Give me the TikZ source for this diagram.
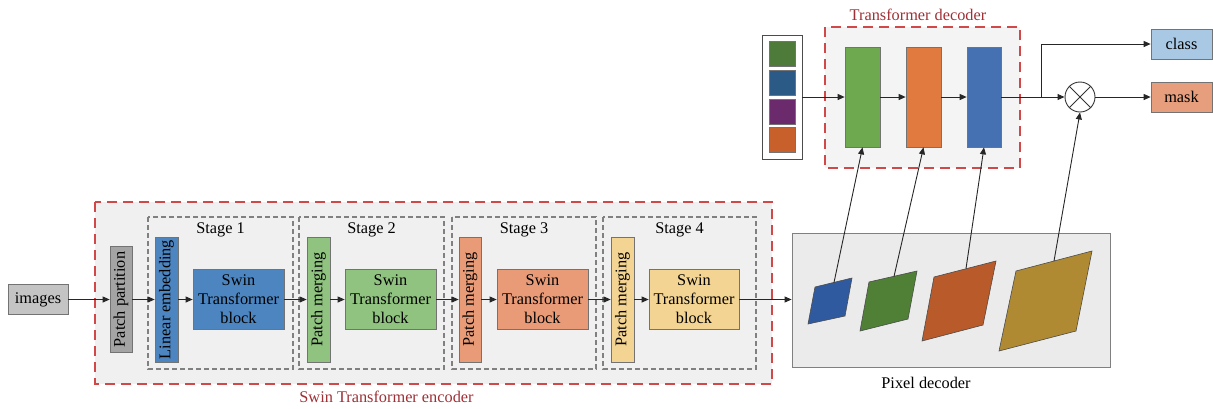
\documentclass[tikz,border=0pt]{standalone}
\usepackage{fontspec}
\setmainfont{Liberation Serif}
\usepackage{graphicx}
\usetikzlibrary{arrows.meta}
\definecolor{redd}{HTML}{D04848}
\definecolor{labred}{HTML}{9E2F35}
\definecolor{bgg}{HTML}{F0F0F0}
\definecolor{pdc}{HTML}{EBEBEB}
\definecolor{imgc}{HTML}{C4C4C4}
\definecolor{ppc}{HTML}{A4A4A4}
\definecolor{bluec}{HTML}{4C85C0}
\definecolor{greenc}{HTML}{90C37F}
\definecolor{salc}{HTML}{E99B78}
\definecolor{yelc}{HTML}{F4D492}
\definecolor{qg}{HTML}{4E7A3A}
\definecolor{qb}{HTML}{2A5A85}
\definecolor{qp}{HTML}{6A2A6C}
\definecolor{qo}{HTML}{C8602C}
\definecolor{dgc}{HTML}{6EA94F}
\definecolor{doc}{HTML}{E07A3E}
\definecolor{dbc}{HTML}{4571B2}
\definecolor{clsc}{HTML}{A8C8E4}
\definecolor{mskc}{HTML}{E69E7C}
\definecolor{pbl}{HTML}{2F5AA0}
\definecolor{pgr}{HTML}{4F8036}
\definecolor{por}{HTML}{B85A2A}
\definecolor{pgo}{HTML}{B08A32}
\begin{document}
\begin{tikzpicture}[x=1pt,y=-1pt,font=\fontsize{16.3}{19}\selectfont,
  arr/.style={-{Triangle[length=7pt,width=6pt]},line width=0.9pt,draw=black!85},
  blk/.style={draw=black!55,line width=0.7pt,inner sep=0pt,align=center},
  reddash/.style={draw=redd,line width=1.8pt,dash pattern=on 10pt off 6pt},
  graydash/.style={draw=black!50,line width=1.1pt,dash pattern=on 5pt off 3pt,fill=bgg},
  para/.style={draw=black!70,line width=0.6pt}]
\useasboundingbox (0,0) rectangle (1213,408);
% encoder frame
\draw[reddash,fill=bgg] (95,202) rectangle (772,384);
\node[text=labred,anchor=base] (enclab) at (386.5,402) {Swin Transformer encoder};
% stage boxes
\draw[graydash] (148,217) rectangle (293,369);
\draw[graydash] (299,217) rectangle (444,369);
\draw[graydash] (452,217) rectangle (596,369);
\draw[graydash] (603,217) rectangle (756,369);
\node[anchor=base] (st1) at (220.5,233) {Stage 1};
\node[anchor=base] (st2) at (371.5,233) {Stage 2};
\node[anchor=base] (st3) at (524,233) {Stage 3};
\node[anchor=base] (st4) at (679.5,233) {Stage 4};
% encoder blocks
\node[blk,fill=imgc,minimum width=60,minimum height=30] (img) at (38,299.5) {images};
\node[blk,fill=ppc,minimum width=22,minimum height=106] (pp) at (121,299.5) {\rotatebox{90}{Patch partition}};
\node[blk,fill=bluec,minimum width=23,minimum height=125] (le) at (166.5,299.5) {\rotatebox{90}{Linear embedding}};
\node[blk,fill=bluec,minimum width=91,minimum height=60] (sw1) at (238.5,299.5) {Swin\\Transformer\\block};
\node[blk,fill=greenc,minimum width=23,minimum height=125] (pm2) at (318.5,299.5) {\rotatebox{90}{Patch merging}};
\node[blk,fill=greenc,minimum width=91,minimum height=60] (sw2) at (390.5,299.5) {Swin\\Transformer\\block};
\node[blk,fill=salc,minimum width=22,minimum height=125] (pm3) at (470,299.5) {\rotatebox{90}{Patch merging}};
\node[blk,fill=salc,minimum width=91,minimum height=60] (sw3) at (542.5,299.5) {Swin\\Transformer\\block};
\node[blk,fill=yelc,minimum width=23,minimum height=125] (pm4) at (622.5,299.5) {\rotatebox{90}{Patch merging}};
\node[blk,fill=yelc,minimum width=90,minimum height=60] (sw4) at (694,299.5) {Swin\\Transformer\\block};
% pixel decoder
\node[draw=black!50,line width=0.8pt,fill=pdc,minimum width=318,minimum height=134,inner sep=0pt] (pd) at (951,300) {};
\node[anchor=base] (pdlab) at (926,388) {Pixel decoder};
\draw[para,fill=pbl] (815,287) -- (852,278) -- (845,316) -- (808,324) -- cycle;
\draw[para,fill=pgr] (869,282) -- (917,271) -- (908,319) -- (860,331) -- cycle;
\draw[para,fill=por] (934,277) -- (996,261) -- (983,325) -- (922,341) -- cycle;
\draw[para,fill=pgo] (1016,271) -- (1092,251) -- (1076,331) -- (999,351) -- cycle;
\coordinate (p1) at (834,282.5);
\coordinate (p2) at (894,276.5);
\coordinate (p3) at (966,268.5);
\coordinate (p4) at (1054,261);
% encoder arrows
\draw[arr] (img) -- (pp);
\draw[arr] (pp) -- (le);
\draw[arr] (le) -- (sw1);
\draw[arr] (sw1) -- (pm2);
\draw[arr] (pm2) -- (sw2);
\draw[arr] (sw2) -- (pm3);
\draw[arr] (pm3) -- (sw3);
\draw[arr] (sw3) -- (pm4);
\draw[arr] (pm4) -- (sw4);
\draw[arr] (sw4.east) -- (sw4.east -| pd.west);
% transformer decoder
\draw[reddash,fill=bgg!70!white] (825,27) rectangle (1020,168);
\node[text=labred,anchor=base] (declab) at (918,20) {Transformer decoder};
\node[draw=black!70,line width=0.8pt,fill=white,minimum width=40,minimum height=124,inner sep=0pt] (q) at (782,97) {};
\node[blk,fill=qg,minimum width=26,minimum height=25] (q1) at (782,53.5) {};
\node[blk,fill=qb,minimum width=26,minimum height=25] (q2) at (782,82.5) {};
\node[blk,fill=qp,minimum width=26,minimum height=25] (q3) at (782,111.5) {};
\node[blk,fill=qo,minimum width=26,minimum height=25] (q4) at (782,139.5) {};
\node[blk,fill=dgc,minimum width=35,minimum height=100] (dg) at (862.5,97) {};
\node[blk,fill=doc,minimum width=35,minimum height=100] (do) at (923.5,97) {};
\node[blk,fill=dbc,minimum width=34,minimum height=100] (db) at (984,97) {};
\node[draw=black!80,line width=0.9pt,circle,minimum size=30,inner sep=0pt] (mul) at (1080,97) {};
\draw[line width=0.9pt,draw=black!80] (mul.north west) -- (mul.south east) (mul.north east) -- (mul.south west);
\node[blk,fill=clsc,minimum width=61,minimum height=30] (cls) at (1181.5,44) {class};
\node[blk,fill=mskc,minimum width=61,minimum height=30] (msk) at (1181.5,97) {mask};
\coordinate (br) at (1041,97);
\draw[arr] (q) -- (dg);
\draw[arr] (dg) -- (do);
\draw[arr] (do) -- (db);
\draw[arr] (db) -- (mul);
\draw[arr] (br) |- (cls.west);
\draw[arr] (mul) -- (msk);
\draw[arr] (p1) -- (dg.south);
\draw[arr] (p2) -- (do.south);
\draw[arr] (p3) -- (db.south);
\draw[arr] (p4) -- (mul.south);
\end{tikzpicture}
\end{document}
